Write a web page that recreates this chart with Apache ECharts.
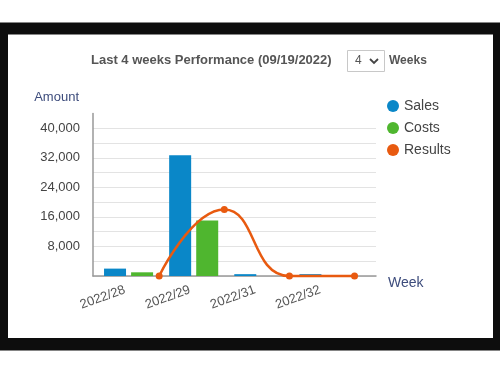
<!DOCTYPE html>
<html>
<head>
<meta charset="utf-8">
<script src="https://cdn.jsdelivr.net/npm/echarts@6/dist/echarts.min.js"></script>
<style>
html,body{margin:0;padding:0;background:#fff;}
#c{width:500px;height:375px;}
</style>
</head>
<body>
<div id="c"></div>
<script>
const categories = ['2022/28', '2022/29', '2022/31', '2022/32'];
const sales = [2000, 32700, 500, 500];
const costs = [1000, 15000, 0, 0];
const results = [0, 18000, 0, 0];
const yTicks = [0, 4000, 8000, 12000, 16000, 20000, 24000, 28000, 32000, 36000, 40000, 44000];
const labeledTicks = [8000, 16000, 24000, 32000, 40000];

const FONT = 'Liberation Sans, Arial, sans-serif';
const yMax = yTicks[yTicks.length - 1];
const yInterval = yTicks[1] - yTicks[0];
const gridColors = yTicks.map((t, i) => i === yTicks.length - 1 ? 'rgba(0,0,0,0)' : '#e3e3e3');

// line points sit at the right edge of each category band
const resultPoints = results.map((v, i) => [i + 0.97, v]);

const chart = echarts.init(document.getElementById('c'), null, {renderer: 'canvas'});
chart.setOption({
  animation: false,
  backgroundColor: '#fff',
  graphic: [
    {type: 'rect', z: -10, shape: {x: 0, y: 22.5, width: 500, height: 328}, style: {fill: '#0d0d0d'}},
    {type: 'rect', z: -9, shape: {x: 8, y: 34.5, width: 485, height: 303.5}, style: {fill: '#ffffff'}},
    {type: 'text', left: 91, top: 54, style: {text: 'Last 4 weeks Performance (09/19/2022)', font: 'bold 13px ' + FONT, fill: '#555'}},
    {type: 'rect', shape: {x: 347.5, y: 50.5, width: 37, height: 21}, style: {fill: '#fff', stroke: '#c8c8c8', lineWidth: 1}},
    {type: 'text', left: 355, top: 55, style: {text: '4', font: '12px ' + FONT, fill: '#555'}},
    {type: 'polyline', shape: {points: [[370, 59], [374, 63], [378, 59]]}, style: {stroke: '#444', lineWidth: 1.8, fill: null}},
    {type: 'text', left: 389, top: 55, style: {text: 'Weeks', font: 'bold 12px ' + FONT, fill: '#555'}}
  ],
  legend: {
    orient: 'vertical',
    left: 382,
    top: 94,
    itemWidth: 12,
    itemHeight: 12,
    itemGap: 8,
    icon: 'circle',
    textStyle: {fontFamily: FONT, fontSize: 14, color: '#444'},
    data: ['Sales', 'Costs', 'Results']
  },
  grid: [
    {left: 93, right: 124, top: 113.5, bottom: 99},
    {left: 96, right: 143.5, top: 113.5, bottom: 99}
  ],
  xAxis: [
    {
      gridIndex: 0, type: 'category', data: categories,
      axisLine: {show: true, lineStyle: {color: '#999', width: 1.5}},
      axisTick: {show: false}, axisLabel: {show: false},
      name: 'Week', nameLocation: 'end', nameGap: 12,
      nameTextStyle: {fontFamily: FONT, fontSize: 14, color: '#3d4c7c', verticalAlign: 'top', padding: [0, 0, 0, 0]}
    },
    {
      gridIndex: 1, type: 'category', data: categories,
      axisLine: {show: false}, axisTick: {show: false},
      axisLabel: {rotate: 20, fontFamily: FONT, fontSize: 13, color: '#555', margin: 12, interval: 0, padding: [0, 4, 0, 0]}
    },
    {
      gridIndex: 1, type: 'value', min: 0, max: categories.length, show: false
    }
  ],
  yAxis: [
    {
      gridIndex: 0, type: 'value', min: 0, max: yMax, interval: yInterval,
      axisLine: {show: true, lineStyle: {color: '#999', width: 1.5}},
      axisTick: {show: false},
      splitLine: {show: true, lineStyle: {color: gridColors, width: 1.2}},
      axisLabel: {
        fontFamily: FONT, fontSize: 13, color: '#444', margin: 13,
        formatter: v => labeledTicks.includes(v) ? v.toLocaleString('en-US') : ''
      },
      name: 'Amount', nameLocation: 'end', nameGap: 10,
      nameTextStyle: {fontFamily: FONT, fontSize: 13, color: '#3d4c7c', align: 'right', padding: [0, 14, 0, 0]}
    },
    {
      gridIndex: 1, type: 'value', min: 0, max: yMax, show: false
    }
  ],
  series: [
    {name: 'Sales', type: 'bar', xAxisIndex: 1, yAxisIndex: 1, data: sales, barWidth: 22, barGap: '23%', itemStyle: {color: '#0a87c8'}},
    {name: 'Costs', type: 'bar', xAxisIndex: 1, yAxisIndex: 1, data: costs, barWidth: 22, barGap: '23%', itemStyle: {color: '#4fb62f'}},
    {name: 'Results', type: 'line', xAxisIndex: 2, yAxisIndex: 1, data: resultPoints, smooth: 0.5, clip: false,
      symbol: 'circle', symbolSize: 7, lineStyle: {color: '#e85a10', width: 2.5}, itemStyle: {color: '#e85a10'}}
  ]
});
</script>
</body>
</html>
